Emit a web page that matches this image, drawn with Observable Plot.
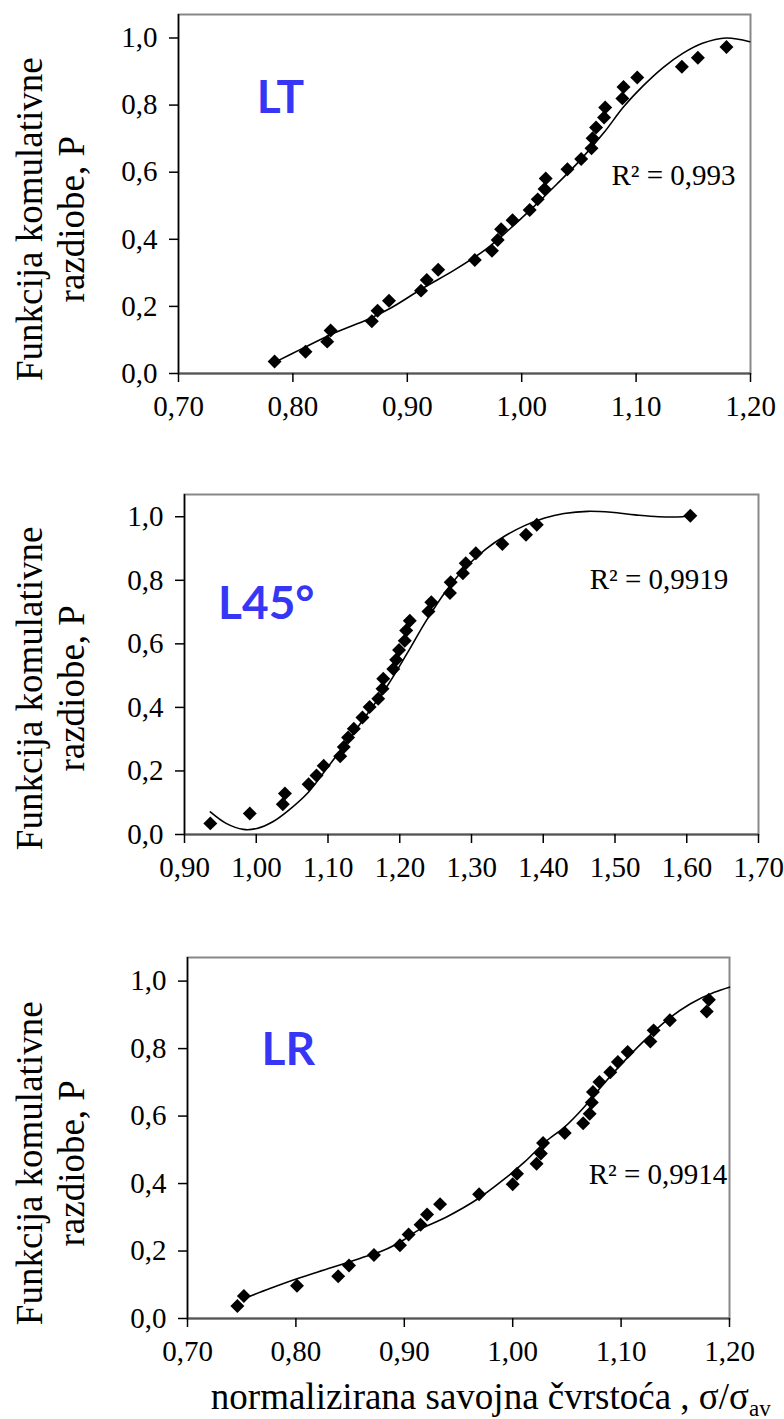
<!DOCTYPE html>
<html><head><meta charset="utf-8">
<script src="https://cdn.jsdelivr.net/npm/d3@7"></script>
<script src="https://cdn.jsdelivr.net/npm/@observablehq/plot@0.6"></script>
<style>body{margin:0;background:#fff;} #c svg{display:block;}</style>
</head><body><div id="c"></div>
<script>
// ---------- data ----------
const yTicks = [0, 0.2, 0.4, 0.6, 0.8, 1.0];
const xTicksLT = [0.7, 0.8, 0.9, 1.0, 1.1, 1.2];
const xTicksL45 = [0.9, 1.0, 1.1, 1.2, 1.3, 1.4, 1.5, 1.6, 1.7];
const xTicksLR = [0.7, 0.8, 0.9, 1.0, 1.1, 1.2];

const ltX = [0.784,0.811,0.830,0.833,0.869,0.874,0.884,0.912,0.917,0.927,0.959,0.974,0.979,0.982,0.992,1.007,1.014,1.020,1.021,1.040,1.052,1.061,1.062,1.065,1.072,1.073,1.088,1.089,1.101,1.140,1.154,1.179];
const ltP = [0.036,0.065,0.095,0.128,0.156,0.187,0.217,0.247,0.279,0.309,0.338,0.366,0.398,0.430,0.457,0.487,0.519,0.550,0.581,0.609,0.639,0.671,0.701,0.733,0.763,0.793,0.820,0.854,0.882,0.914,0.941,0.973];
const ltCurveX = [0.7844,0.8067,0.8377,0.8653,0.8860,0.9135,0.9410,0.9686,0.9893,1.0099,1.0306,1.0512,1.0719,1.0891,1.1063,1.1236,1.1408,1.1580,1.1787,1.1993];
const ltCurveP = [0.034,0.072,0.123,0.161,0.196,0.254,0.308,0.370,0.430,0.495,0.564,0.636,0.718,0.795,0.858,0.912,0.954,0.984,1.000,0.989];

const l45X = [0.936,0.991,1.037,1.040,1.073,1.084,1.094,1.117,1.122,1.128,1.136,1.148,1.158,1.170,1.176,1.177,1.191,1.195,1.199,1.207,1.209,1.214,1.240,1.244,1.270,1.271,1.288,1.292,1.306,1.343,1.376,1.391,1.605];
const l45P = [0.035,0.066,0.095,0.129,0.158,0.186,0.216,0.246,0.275,0.305,0.333,0.368,0.401,0.427,0.459,0.490,0.521,0.550,0.581,0.610,0.642,0.673,0.702,0.731,0.760,0.794,0.822,0.854,0.885,0.914,0.943,0.975,1.003];
const l45CurveX = [0.936,0.958,0.982,1.001,1.023,1.045,1.073,1.100,1.128,1.155,1.183,1.210,1.237,1.265,1.292,1.320,1.347,1.374,1.402,1.429,1.462,1.495,1.528,1.561,1.594,1.605];
const l45CurveP = [0.071,0.035,0.016,0.019,0.040,0.076,0.134,0.213,0.296,0.380,0.469,0.569,0.673,0.768,0.841,0.898,0.940,0.972,0.996,1.010,1.017,1.014,1.006,1.000,1.000,1.003];

const lrX = [0.746,0.752,0.801,0.839,0.849,0.872,0.896,0.904,0.915,0.921,0.933,0.969,1.000,1.004,1.022,1.026,1.028,1.048,1.065,1.071,1.073,1.074,1.080,1.090,1.097,1.106,1.127,1.130,1.145,1.179,1.181];
const lrP = [0.037,0.067,0.097,0.125,0.157,0.188,0.217,0.249,0.278,0.308,0.339,0.368,0.398,0.429,0.459,0.489,0.520,0.550,0.579,0.607,0.640,0.671,0.701,0.730,0.760,0.790,0.821,0.854,0.884,0.910,0.945];
const lrCurveX = [0.752,0.776,0.801,0.830,0.859,0.881,0.899,0.913,0.939,0.968,0.993,1.011,1.030,1.048,1.066,1.084,1.102,1.120,1.142,1.164,1.186,1.200];
const lrCurveP = [0.059,0.089,0.118,0.148,0.178,0.202,0.232,0.262,0.301,0.355,0.415,0.464,0.523,0.568,0.627,0.696,0.760,0.819,0.884,0.933,0.967,0.982];

const labels = ["LT", "L45°", "LR"];
const r2Texts = ["R² = 0,993", "R² = 0,9919", "R² = 0,9914"];
const yTitle = "Funkcija komulativne\nrazdiobe, P";
const xTitle = "normalizirana savojna čvrstoća , σ/σ";
const xTitleSub = "av";

// ---------- drawing ----------
const serif = "'Liberation Serif', 'Times New Roman', serif";
const fmtX = d => d3.format(".2f")(d).replace(".", ",");
const fmtY = d => d3.format(".1f")(d).replace(".", ",");
const zipXY = (xs, ys) => xs.map((x, i) => ({x, y: ys[i]}));

function panel(o) {
  const marks = [
    Plot.frame({stroke: "#888", strokeWidth: 2}),
    Plot.ruleY([0], {stroke: "#555", strokeWidth: 2}),
    Plot.ruleX([o.domain[0]], {stroke: "#000", strokeWidth: 1.5}),
    Plot.axisX({ticks: o.xTicks, tickFormat: fmtX, tickSize: 9, tickPadding: 13, label: null, strokeWidth: 1.5, fontSize: 29, fontFamily: serif}),
    Plot.axisY({ticks: yTicks, tickFormat: fmtY, tickSize: 9, tickPadding: 12, label: null, strokeWidth: 1.5, fontSize: 29, fontFamily: serif}),
    Plot.line(zipXY(o.cx, o.cy), {x: "x", y: "y", curve: "catmull-rom", stroke: "#000", strokeWidth: 1.6}),
    Plot.dot(zipXY(o.px, o.py), {x: "x", y: "y", symbol: "diamond2", r: 6.3, fill: "#000", stroke: "none"}),
    Plot.text([o.label], {x: o.labelX, y: o.labelY, text: d => d, fontFamily: "Lato", fontWeight: 700, fontSize: 46, fill: "#3636f4", lineAnchor: "middle"}),
    Plot.text([o.r2], {x: o.r2X, y: o.r2Y, text: d => d, textAnchor: "end", fontSize: 29, fontFamily: serif, fill: "#000", lineAnchor: "middle"}),
    Plot.text([yTitle], {y: 0.46, frameAnchor: "left", dx: 49 - o.ml, rotate: -90, text: d => d, fontSize: 37, fontFamily: serif, lineHeight: 1.15, textAnchor: "middle", lineAnchor: "middle", fill: "#000"})
  ];
  if (o.xTitle) {
    marks.push(Plot.text([xTitle], {x: 1.218, frameAnchor: "bottom", dy: 90, text: d => d, textAnchor: "end", lineAnchor: "bottom", fontSize: 37, fontFamily: serif, fill: "#000"}));
    marks.push(Plot.text([xTitleSub], {x: 1.218, frameAnchor: "bottom", dy: 97, text: d => d, textAnchor: "start", lineAnchor: "bottom", fontSize: 23, fontFamily: serif, fill: "#000"}));
  }
  return Plot.plot({
    width: 784, height: o.h,
    marginTop: o.mt, marginBottom: o.mb, marginLeft: o.ml, marginRight: o.mr,
    style: {fontFamily: serif, fontSize: "29px", color: "#000", background: "#fff", overflow: "visible"},
    x: {domain: o.domain},
    y: {domain: [0, 1.07]},
    marks
  });
}

const c = document.getElementById("c");
c.appendChild(panel({h: 470, mt: 14, mb: 97, ml: 178, mr: 34, domain: [0.7, 1.2], xTicks: xTicksLT,
  px: ltX, py: ltP, cx: ltCurveX, cy: ltCurveP, label: labels[0], labelX: 0.789, labelY: 0.821,
  r2: r2Texts[0], r2X: 1.187, r2Y: 0.589}));
c.appendChild(panel({h: 470, mt: 24, mb: 106, ml: 184, mr: 26, domain: [0.9, 1.7], xTicks: xTicksL45,
  px: l45X, py: l45P, cx: l45CurveX, cy: l45CurveP, label: labels[1], labelX: 1.014, labelY: 0.726,
  r2: r2Texts[1], r2X: 1.658, r2Y: 0.802}));
c.appendChild(panel({h: 479, mt: 17, mb: 101, ml: 187, mr: 55, domain: [0.7, 1.2], xTicks: xTicksLR,
  px: lrX, py: lrP, cx: lrCurveX, cy: lrCurveP, label: labels[2], labelX: 0.793, labelY: 0.794,
  r2: r2Texts[2], r2X: 1.198, r2Y: 0.427, xTitle: true}));
</script></body></html>
